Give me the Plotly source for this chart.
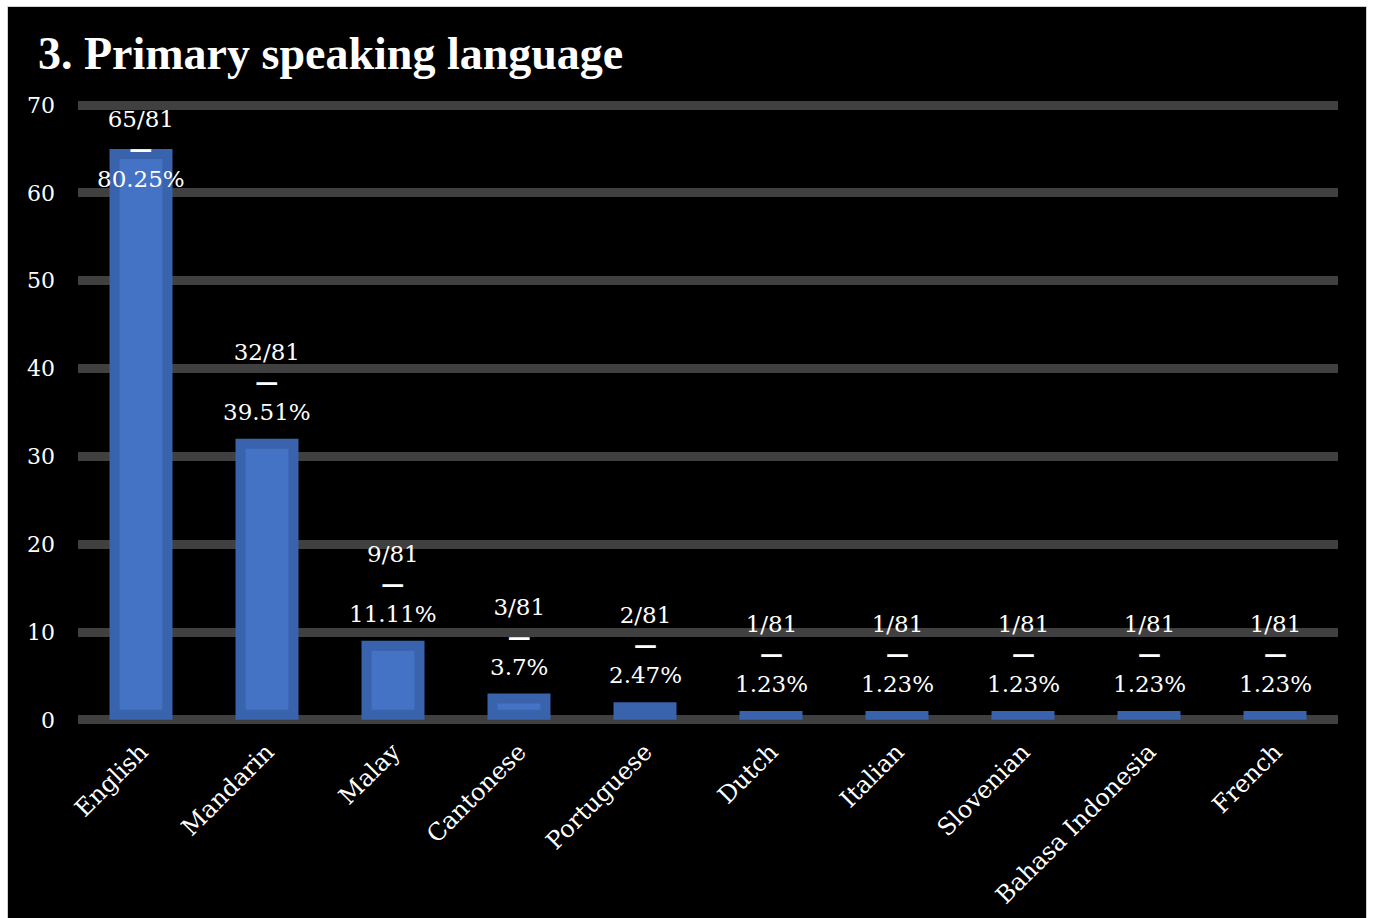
import plotly.graph_objects as go

# Survey results: primary speaking language (81 respondents)
languages = ["English", "Mandarin", "Malay", "Cantonese", "Portuguese",
             "Dutch", "Italian", "Slovenian", "Bahasa Indonesia", "French"]
counts = [65, 32, 9, 3, 2, 1, 1, 1, 1, 1]
total = 81
y_ticks = [0, 10, 20, 30, 40, 50, 60, 70]

W, H = 1373, 918
M_L, M_R, M_T, M_B = 78, 35, 99, 192
Y_MIN, Y_MAX = -0.7, 70.7
plot_h = H - M_T - M_B
px_per_unit = plot_h / (Y_MAX - Y_MIN)

SERIF = "DejaVu Serif"
BAR_EDGE = "#3A63AD"
BAR_FILL = "#4472C4"
GRID = "#404040"
LABEL_SIZE = 23


def pct_text(n):
    p = f"{n / total * 100:.2f}".rstrip("0").rstrip(".")
    return f"{n}/{total}<br><b>—</b><br>{p}%"


# inner highlight inset (pixels) converted to data units
inset = 10 / px_per_unit
inner_base = [inset if c - 2 * inset > 0 else None for c in counts]
inner_h = [c - 2 * inset if c - 2 * inset > 0 else None for c in counts]

fig = go.Figure()
fig.add_trace(go.Bar(x=languages, y=counts, width=0.5,
                     marker=dict(color=BAR_EDGE, line=dict(width=0)),
                     hoverinfo="skip"))
fig.add_trace(go.Bar(x=languages, y=inner_h, base=inner_base, width=0.34,
                     marker=dict(color=BAR_FILL, line=dict(width=0)),
                     hoverinfo="skip"))

# value labels above each bar, kept inside the plotting area
label_h = 3 * 1.3 * LABEL_SIZE / px_per_unit
for lang, c in zip(languages, counts):
    if c + label_h + 1 > y_ticks[-1]:
        fig.add_annotation(x=lang, y=y_ticks[-1], yanchor="top", yshift=1,
                           text=pct_text(c), showarrow=False,
                           font=dict(family=SERIF, size=LABEL_SIZE,
                                     color="white"))
    else:
        fig.add_annotation(x=lang, y=c, yanchor="bottom", yshift=12,
                           text=pct_text(c), showarrow=False,
                           font=dict(family=SERIF, size=LABEL_SIZE,
                                     color="white"))

plot_w = W - M_L - M_R


def px_x(px):
    return (px - M_L) / plot_w


def px_y(py):
    return (H - M_B - py) / plot_h


# dark card with a thin light border
fig.add_shape(type="rect", xref="paper", yref="paper", layer="below",
              x0=px_x(7.5), x1=px_x(1366.5), y0=px_y(930), y1=px_y(6.5),
              fillcolor="black", line=dict(color="#d0d0d0", width=1))

fig.update_layout(
    width=W, height=H,
    margin=dict(l=M_L, r=M_R, t=M_T, b=M_B, pad=0),
    paper_bgcolor="white",
    plot_bgcolor="rgba(0,0,0,0)",
    barmode="overlay",
    showlegend=False,
    title=dict(text="3. Primary speaking language", xref="container",
               yref="container", x=38 / W, xanchor="left",
               y=1 - 53 / H, yanchor="middle",
               font=dict(family="Liberation Serif", size=46, color="white",
                         weight="bold")),
    xaxis=dict(showgrid=False, zeroline=False, showline=False, ticks="",
               automargin=False, tickangle=-45, ticklabelstandoff=6,
               tickfont=dict(family=SERIF, size=24, color="white")),
    yaxis=dict(range=[Y_MIN, Y_MAX], tickvals=y_ticks, showgrid=True,
               automargin=False, gridcolor=GRID, gridwidth=9, zeroline=False,
               showline=False, ticks="", ticklabelstandoff=22,
               tickfont=dict(family=SERIF, size=22, color="white")),
)

fig.write_html("out.html")
